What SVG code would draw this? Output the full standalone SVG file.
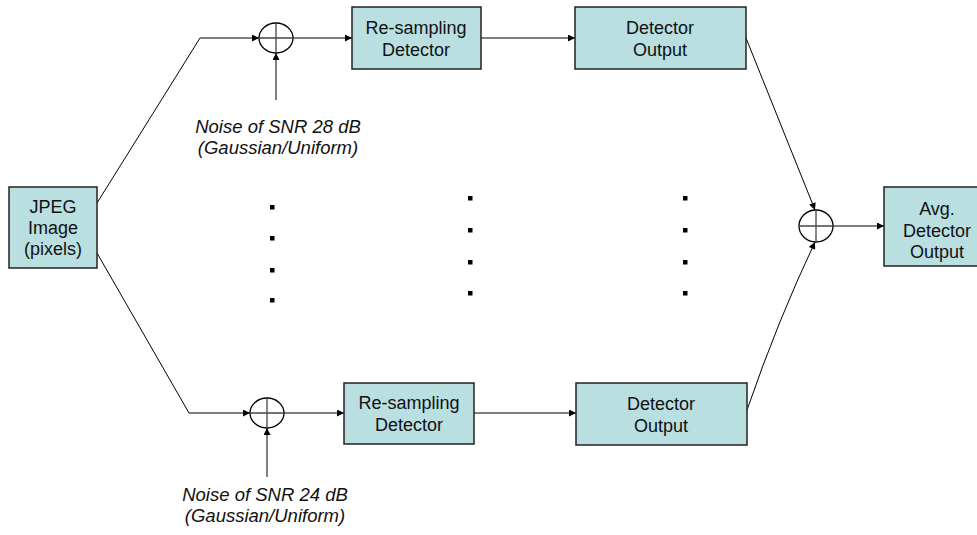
<svg xmlns="http://www.w3.org/2000/svg" width="977" height="535" viewBox="0 0 977 535">
<defs>
<marker id="arr" viewBox="0 0 10 10" refX="10" refY="5" markerWidth="9" markerHeight="7" markerUnits="userSpaceOnUse" orient="auto">
<path d="M0,0 L10,5 L0,10 z" fill="#000"/>
</marker>
</defs>
<style>
.box{fill:#B9DFE1;stroke:#222;stroke-width:1.5}
.t{font-family:"Liberation Sans",Arial,sans-serif;font-size:18px;fill:#111;text-anchor:middle}
.n{font-family:"Liberation Sans",Arial,sans-serif;font-size:18.5px;font-style:italic;fill:#111;text-anchor:middle}
.ln{fill:none;stroke:#000;stroke-width:1}
.sum{fill:none;stroke:#000;stroke-width:1.3}
.x{stroke:#444;stroke-width:1.3}
.dot{fill:#000}
</style>
<g id="connectors">
<polyline class="ln" points="97,203 200,38 259,38" marker-end="url(#arr)"/>
<line class="ln" x1="276" y1="100" x2="276" y2="53" marker-end="url(#arr)"/>
<line class="ln" x1="293" y1="38" x2="352" y2="38" marker-end="url(#arr)"/>
<line class="ln" x1="481" y1="38" x2="575" y2="38" marker-end="url(#arr)"/>
<line class="ln" x1="746" y1="38" x2="815" y2="210" marker-end="url(#arr)"/>
<polyline class="ln" points="97,253 189,413 250,413" marker-end="url(#arr)"/>
<line class="ln" x1="267" y1="477" x2="267" y2="428" marker-end="url(#arr)"/>
<line class="ln" x1="284" y1="413" x2="344" y2="413" marker-end="url(#arr)"/>
<line class="ln" x1="474" y1="413" x2="576" y2="413" marker-end="url(#arr)"/>
<path class="ln" d="M747,410 Q778,320 815,242" marker-end="url(#arr)"/>
<line class="ln" x1="833" y1="226" x2="884" y2="226" marker-end="url(#arr)"/>
</g>
<g id="jpeg">
<rect class="box" x="9" y="187" width="88" height="81"/>
<text class="t" x="53" y="213">JPEG</text>
<text class="t" x="53" y="234">Image</text>
<text class="t" x="53" y="255">(pixels)</text>
</g>
<g id="sum1">
<ellipse class="sum" cx="276" cy="38" rx="17" ry="15"/>
<line class="x" x1="259" y1="38" x2="293" y2="38"/>
<line class="x" x1="276" y1="23" x2="276" y2="53"/>
</g>
<g id="noise1">
<text class="n" x="278" y="133">Noise of SNR 28 dB</text>
<text class="n" x="278" y="154">(Gaussian/Uniform)</text>
</g>
<g id="resamp1">
<rect class="box" x="352" y="7" width="129" height="62"/>
<text class="t" x="416" y="34">Re-sampling</text>
<text class="t" x="416" y="56">Detector</text>
</g>
<g id="detout1">
<rect class="box" x="575" y="7" width="171" height="62"/>
<text class="t" x="660" y="34">Detector</text>
<text class="t" x="660" y="56">Output</text>
</g>
<g id="sum2">
<ellipse class="sum" cx="267" cy="413" rx="17" ry="15"/>
<line class="x" x1="250" y1="413" x2="284" y2="413"/>
<line class="x" x1="267" y1="398" x2="267" y2="428"/>
</g>
<g id="noise2">
<text class="n" x="265" y="501">Noise of SNR 24 dB</text>
<text class="n" x="265" y="522">(Gaussian/Uniform)</text>
</g>
<g id="resamp2">
<rect class="box" x="344" y="383" width="130" height="61"/>
<text class="t" x="409" y="409">Re-sampling</text>
<text class="t" x="409" y="431">Detector</text>
</g>
<g id="detout2">
<rect class="box" x="576" y="383" width="171" height="62"/>
<text class="t" x="661" y="410">Detector</text>
<text class="t" x="661" y="432">Output</text>
</g>
<g id="sum3">
<ellipse class="sum" cx="816" cy="226" rx="17" ry="16"/>
<line class="x" x1="799" y1="226" x2="833" y2="226"/>
<line class="x" x1="816" y1="210" x2="816" y2="242"/>
</g>
<g id="avg">
<rect class="box" x="884" y="187" width="110" height="79"/>
<text class="t" x="937" y="215">Avg.</text>
<text class="t" x="937" y="237">Detector</text>
<text class="t" x="937" y="258">Output</text>
</g>
<g id="dots">
<rect class="dot" x="270" y="205" width="4.5" height="4.5"/>
<rect class="dot" x="270" y="236" width="4.5" height="4.5"/>
<rect class="dot" x="270" y="268" width="4.5" height="4.5"/>
<rect class="dot" x="270" y="298" width="4.5" height="4.5"/>
<rect class="dot" x="468" y="196" width="4.5" height="4.5"/>
<rect class="dot" x="468" y="228" width="4.5" height="4.5"/>
<rect class="dot" x="468" y="260" width="4.5" height="4.5"/>
<rect class="dot" x="468" y="291" width="4.5" height="4.5"/>
<rect class="dot" x="683" y="196" width="4.5" height="4.5"/>
<rect class="dot" x="683" y="228" width="4.5" height="4.5"/>
<rect class="dot" x="683" y="260" width="4.5" height="4.5"/>
<rect class="dot" x="683" y="291" width="4.5" height="4.5"/>
</g>
</svg>
